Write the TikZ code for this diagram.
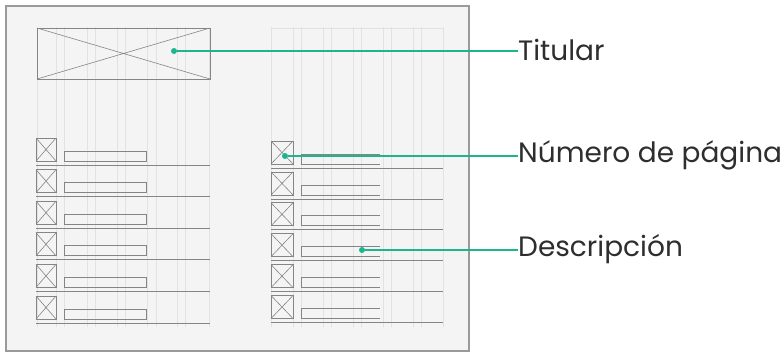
\documentclass[tikz,border=0pt]{standalone}
\usepackage{fontspec}
\setmainfont{Poppins}
\definecolor{paper}{HTML}{F4F4F4}
\definecolor{frame}{HTML}{9A9A9A}
\definecolor{pencil}{HTML}{858585}
\definecolor{guide}{HTML}{E2E2E2}
\definecolor{accent}{HTML}{1DB58B}
\definecolor{ink}{HTML}{2E2E2E}
\tikzset{
  pen/.style={draw=pencil, line width=0.8pt},
  guideline/.style={draw=guide, line width=0.6pt},
  xbox/.style={pen, rectangle, inner sep=0pt, outer sep=0pt,
     path picture={\draw[pencil, line width=0.6pt] (path picture bounding box.north west) -- (path picture bounding box.south east)
        (path picture bounding box.south west) -- (path picture bounding box.north east);}},
  barbox/.style={pen, rectangle, inner sep=0pt, outer sep=0pt},
  dot/.style={circle, fill=accent, inner sep=0pt, minimum size=6pt},
  lbl/.style={anchor=west, inner sep=0pt, font=\fontsize{28}{32}\selectfont, text=ink},
  conn/.style={draw=accent, line width=1.4pt}
}
\begin{document}
\begin{tikzpicture}[x=1pt,y=-1pt]
\useasboundingbox (0,0) rectangle (784,354);
\fill[white] (0,0) rectangle (784,354);
\draw[fill=paper, draw=frame, line width=2pt] (6,6) rectangle (469,351);
% guide lines
\foreach \gx in {37,56,64,87,95,117,125,147,156,177,185,209}
  \draw[guideline] (\gx,27) -- (\gx,327);
\draw[guideline] (55,28) -- (210,28);
\foreach \gx in {271,293,301,323,331,353,361,383,391,413,421,443}
  \draw[guideline] (\gx,27) -- (\gx,327);
\draw[guideline] (271,28) -- (443,28);
% title box
\node[xbox, minimum width=173pt, minimum height=51pt] (title) at (123.5,53.5) {};
% left rows
\foreach \i in {0,...,5}{
  \pgfmathsetmacro{\t}{138+31.6*\i}
  \node[xbox, minimum width=20pt, minimum height=23pt, anchor=north west] (lsq\i) at (36,\t) {};
  \node[barbox, minimum width=82pt, minimum height=10pt, anchor=south west] (lbar\i) at (64,\t+23) {};
  \coordinate (lla\i) at (36,\t+27);
  \coordinate (llb\i) at (210,\t+27);
  \draw[pen] (lla\i) -- (llb\i);
}
% right rows
\foreach \i in {0,...,5}{
  \pgfmathsetmacro{\t}{141+30.9*\i}
  \node[xbox, minimum width=22pt, minimum height=23pt, anchor=north west] (rsq\i) at (271,\t) {};
  \coordinate (rbar\i) at (301,\t+23);
  \draw[pen] (380,\t+13) -- (301,\t+13) -- (rbar\i) -- (380,\t+23);
  \coordinate (rla\i) at (271,\t+27);
  \coordinate (rlb\i) at (443,\t+27);
  \draw[pen] (rla\i) -- (rlb\i);
}
% dots and labels
\node[dot] (d1) at (174,51) {};
\node[dot] (d2) at (285,156) {};
\node[dot] (d3) at (362,250) {};
\node[lbl] (t1) at (518,50) {Titular};
\node[lbl] (t2) at (518,155) {Número de página};
\node[lbl] (t3) at (518,249) {Descripción};
\draw[conn] (d1) -- (d1 -| t1.west);
\draw[conn] (d2) -- (d2 -| t2.west);
\draw[conn] (d3) -- (d3 -| t3.west);
\end{tikzpicture}
\end{document}
